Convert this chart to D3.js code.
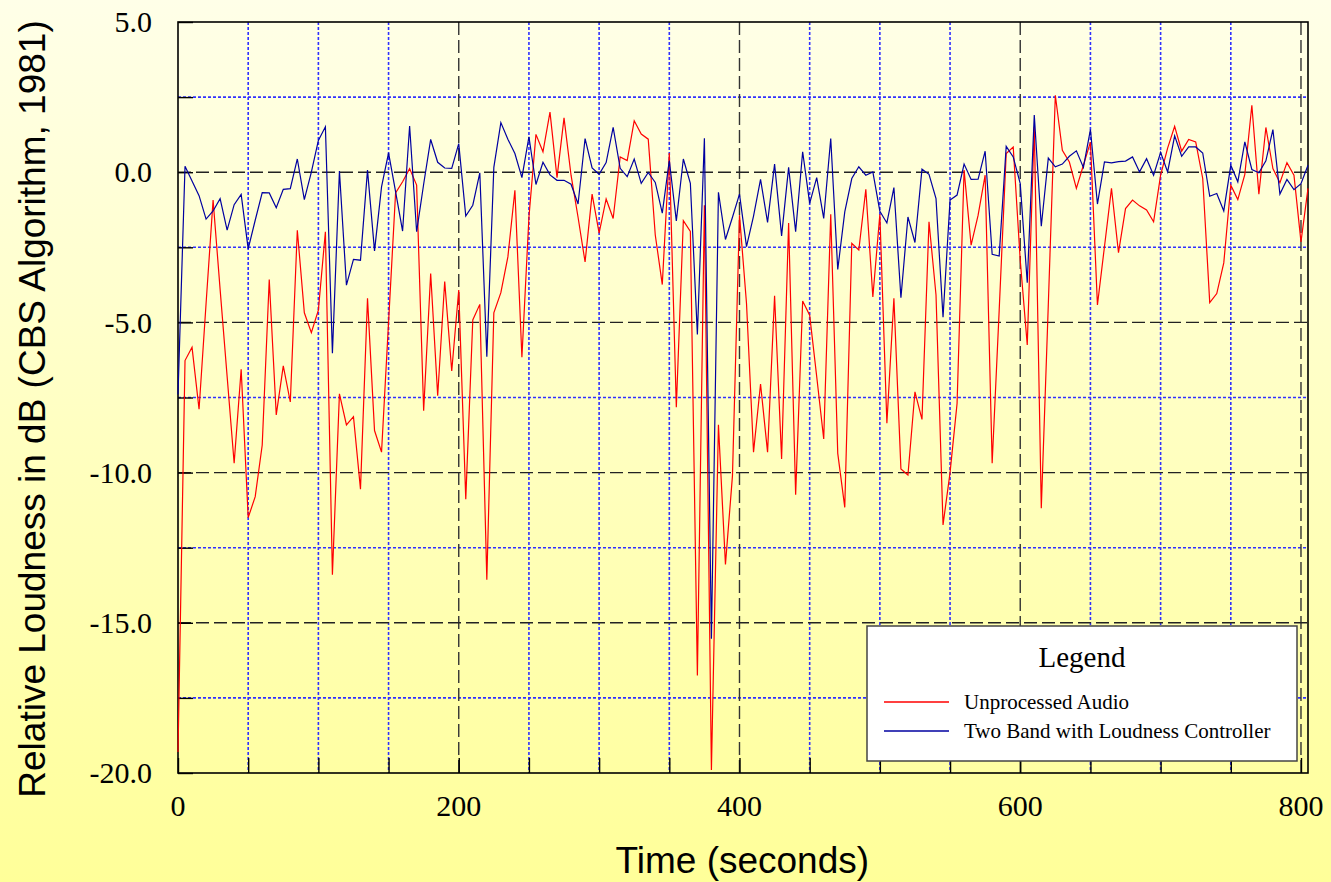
<!DOCTYPE html>
<html>
<head>
<meta charset="utf-8">
<script src="https://cdn.jsdelivr.net/npm/d3@7"></script>
<style>
  html, body { margin: 0; padding: 0; }
  svg { display: block; }
</style>
</head>
<body>
<div id="chart"></div>
<script>
// Sample times (one reading every 5 seconds)
var times = d3.range(0, 806, 5);

// Unprocessed Audio (dB)
var unprocessed = [
  -19.3, -6.27, -5.83, -7.89, -4.37, -0.93, -3.9, -6.8, -9.69, -6.56,
  -11.5, -10.8, -9.08, -3.57, -8.08, -6.45, -7.65, -1.93, -4.68, -5.34,
  -4.59, -1.98, -13.4, -7.38, -8.41, -8.14, -10.55, -4.2, -8.6, -9.32,
  -5.0, -0.69, -0.32, 0.12, -0.43, -7.94, -3.37, -7.44, -3.64, -6.62,
  -3.92, -10.89, -4.92, -4.40, -13.57, -4.68, -4.01, -2.82, -0.6, -6.16,
  -1.5, 1.26, 0.68, 2.0, -0.18, 1.81, -0.1, -1.5, -2.99, -0.73,
  -2.03, -0.89, -1.54, 0.51, 0.39, 1.71, 1.27, 1.10, -2.09, -3.74,
  0.64, -7.82, -1.61, -1.97, -16.75, -1.10, -19.9, -8.41, -13.06, -10.1,
  -1.43, -4.37, -9.32, -7.05, -9.32, -4.11, -9.55, -1.69, -10.74, -4.29,
  -4.76, -6.8, -8.88, -1.40, -9.36, -11.16, -2.37, -2.59, -0.57, -4.15,
  -1.4, -8.36, -4.2, -9.88, -10.08, -7.31, -8.23, -1.65, -4.09, -11.74,
  -10.0, -7.7, 0.07, -2.43, -1.43, -0.1, -9.69, -4.6, 0.62, 0.84,
  -2.93, -5.75, 1.51, -11.19, -4.4, 2.56, 0.73, 0.34, -0.54, 0.23,
  1.0, -4.42, -2.48, -0.54, -2.68, -1.21, -0.93, -1.12, -1.26, -1.65,
  -0.1, 0.8, 1.53, 0.70, 1.09, 1.01, -0.21, -4.34, -4.04, -3.02,
  -0.43, -0.91, -0.07, 2.23, -0.73, 1.49, 0.12, -0.35, 0.32, -0.1,
  -2.32, -0.54
];

// Two Band with Loudness Controller (dB)
var twoBand = [
  -7.4, 0.2, -0.29, -0.78, -1.56, -1.29, -0.88, -1.93, -1.08, -0.74,
  -2.55, -1.6, -0.68, -0.69, -1.18, -0.57, -0.55, 0.44, -0.91, 0.0,
  1.06, 1.51, -6.03, 0.04, -3.76, -2.9, -2.93, 0.07, -2.62, -0.49,
  0.64, -0.65, -1.96, 1.54, -1.98, -0.4, 1.09, 0.33, 0.14, 0.13,
  0.95, -1.46, -1.10, -0.02, -6.14, 0.16, 1.65, 1.1, 0.62, -0.18,
  1.18, -0.41, 0.33, -0.09, -0.27, -0.27, -0.4, -1.06, 1.12, 0.14,
  -0.07, 0.32, 1.49, 0.13, -0.15, 0.44, -0.37, -0.01, -0.34, -1.36,
  0.39, -1.62, 0.44, -0.37, -5.4, 1.13, -15.53, -0.67, -2.24, -1.5,
  -0.73, -2.48, -1.46, -0.24, -1.67, 0.27, -2.12, 0.16, -1.98, 0.68,
  -1.04, -0.18, -1.54, 1.12, -3.24, -1.32, -0.21, 0.18, -0.1, 0.01,
  -1.3, -1.69, -0.51, -4.18, -1.49, -2.34, 0.1, -0.07, -0.88, -4.83,
  -0.93, -0.76, 0.27, -0.24, -0.23, 0.70, -2.73, -2.79, 0.86, 0.51,
  -0.38, -3.68, 1.90, -1.80, 0.47, 0.18, 0.27, 0.53, 0.71, 0.16,
  1.42, -1.06, 0.34, 0.31, 0.35, 0.37, 0.51, 0.01, 0.45, -0.1,
  0.66, 0.01, 1.21, 0.53, 0.84, 0.84, 0.64, -0.8, -0.71, -1.29,
  0.23, -0.32, 1.01, 0.09, -0.02, 0.38, 1.42, -0.73, -0.24, -0.58,
  -0.38, 0.23
];

var seriesNames = ["Unprocessed Audio", "Two Band with Loudness Controller"];
var seriesColors = ["#ff0000", "#0000a0"];

var xTicks = [0, 200, 400, 600, 800];
var yTicks = [5, 0, -5, -10, -15, -20];

var W = 1331, H = 882;
var margin = {top: 22, right: 23, bottom: 109, left: 178};
var width = W - margin.left - margin.right,
    height = H - margin.top - margin.bottom;

var serif = "'Liberation Serif', 'Times New Roman', serif";

var svg = d3.select("#chart").append("svg")
    .attr("width", W)
    .attr("height", H);

// Page background gradient
var defs = svg.append("defs");
var grad = defs.append("linearGradient")
    .attr("id", "bg")
    .attr("x1", 0).attr("y1", 0).attr("x2", 0).attr("y2", 1);
grad.append("stop").attr("offset", "0%").attr("stop-color", "#ffffe8");
grad.append("stop").attr("offset", "100%").attr("stop-color", "#ffff99");
svg.append("rect")
    .attr("width", W).attr("height", H)
    .attr("fill", "url(#bg)");

var g = svg.append("g")
    .attr("transform", `translate(${margin.left},${margin.top})`);

var x = d3.scaleLinear().domain([0, 805]).range([0, width]);
var y = d3.scaleLinear().domain([-20, 5]).range([height, 0]);

// Minor grid (blue dotted)
var xMinor = d3.range(50, 806, 50).filter(d => d % 200 !== 0);
var yMinor = d3.range(-17.5, 5, 2.5).filter(d => d % 5 !== 0);

var grid = g.append("g");

grid.append("g").selectAll("line")
    .data(xMinor)
    .join("line")
    .attr("x1", d => x(d)).attr("x2", d => x(d))
    .attr("y1", 0).attr("y2", height)
    .attr("stroke", "#3030ff")
    .attr("stroke-width", 1.6)
    .attr("stroke-dasharray", "3,2");

grid.append("g").selectAll("line")
    .data(yMinor)
    .join("line")
    .attr("x1", 0).attr("x2", width)
    .attr("y1", d => y(d)).attr("y2", d => y(d))
    .attr("stroke", "#3030ff")
    .attr("stroke-width", 1.6)
    .attr("stroke-dasharray", "3,2");

// Major grid (dark dashed)
grid.append("g").selectAll("line")
    .data(xTicks.filter(d => d !== 0))
    .join("line")
    .attr("x1", d => x(d)).attr("x2", d => x(d))
    .attr("y1", 0).attr("y2", height)
    .attr("stroke", "#333")
    .attr("stroke-width", 1.4)
    .attr("stroke-dasharray", "13,5");

grid.append("g").selectAll("line")
    .data(yTicks.filter(d => d !== 5 && d !== -20))
    .join("line")
    .attr("x1", 0).attr("x2", width)
    .attr("y1", d => y(d)).attr("y2", d => y(d))
    .attr("stroke", "#222")
    .attr("stroke-width", 1.4)
    .attr("stroke-dasharray", "13,5");

// Axes with inward ticks
var xAxis = g.append("g")
    .attr("transform", `translate(0,${height})`)
    .call(d3.axisBottom(x)
        .tickValues(d3.range(0, 806, 50))
        .tickSizeInner(-15)
        .tickSizeOuter(0)
        .tickFormat(""));
xAxis.select(".domain").remove();
xAxis.selectAll("line").attr("stroke", "#000").attr("stroke-width", 1.4);

g.append("g")
    .selectAll("text")
    .data(xTicks)
    .join("text")
    .attr("x", d => x(d))
    .attr("y", height + 43)
    .attr("text-anchor", "middle")
    .attr("font-family", serif)
    .attr("font-size", 30)
    .attr("fill", "#000")
    .text(d => d);

var yAxis = g.append("g")
    .call(d3.axisLeft(y)
        .tickValues(d3.range(-20, 5.1, 2.5))
        .tickSizeInner(-15)
        .tickSizeOuter(0)
        .tickFormat(""));
yAxis.select(".domain").remove();
yAxis.selectAll("line").attr("stroke", "#000").attr("stroke-width", 1.4);

g.append("g")
    .selectAll("text")
    .data(yTicks)
    .join("text")
    .attr("x", -26)
    .attr("y", d => y(d))
    .attr("dy", "0.34em")
    .attr("text-anchor", "end")
    .attr("font-family", serif)
    .attr("font-size", 30)
    .attr("fill", "#000")
    .text(d => d.toFixed(1));

// Plot frame
g.append("rect")
    .attr("width", width).attr("height", height)
    .attr("fill", "none")
    .attr("stroke", "#000")
    .attr("stroke-width", 1.6);

// Series lines
var line = d3.line()
    .x((d, i) => x(times[i]))
    .y(d => y(d));

[unprocessed, twoBand].forEach(function (vals, k) {
    g.append("path")
        .datum(vals)
        .attr("fill", "none")
        .attr("stroke", seriesColors[k])
        .attr("stroke-width", 1.2)
        .attr("d", line);
});

// Legend
var lg = svg.append("g").attr("transform", "translate(867,626)");
lg.append("rect")
    .attr("width", 430).attr("height", 135)
    .attr("fill", "#ffffff")
    .attr("stroke", "#444")
    .attr("stroke-width", 1.5);
lg.append("text")
    .attr("x", 215).attr("y", 41)
    .attr("text-anchor", "middle")
    .attr("font-family", serif)
    .attr("font-size", 29)
    .text("Legend");
var items = lg.selectAll(".item")
    .data(seriesNames)
    .join("g")
    .attr("class", "item")
    .attr("transform", (d, i) => `translate(0,${76 + i * 29})`);
items.append("line")
    .attr("x1", 17).attr("x2", 82)
    .attr("y1", 0).attr("y2", 0)
    .attr("stroke", (d, i) => seriesColors[i])
    .attr("stroke-width", 1.3);
items.append("text")
    .attr("x", 97).attr("y", 0)
    .attr("dy", "0.35em")
    .attr("font-family", serif)
    .attr("font-size", 21)
    .text(d => d);

// Axis titles
svg.append("text")
    .attr("x", margin.left + x(402))
    .attr("y", 873)
    .attr("text-anchor", "middle")
    .attr("font-family", "'Liberation Sans', Arial, sans-serif")
    .attr("font-size", 37)
    .text("Time (seconds)");

svg.append("text")
    .attr("transform", "translate(45,409) rotate(-90)")
    .attr("text-anchor", "middle")
    .attr("font-family", "'Liberation Sans', Arial, sans-serif")
    .attr("font-size", 37)
    .text("Relative Loudness in dB (CBS Algorithm, 1981)");
</script>
</body>
</html>
